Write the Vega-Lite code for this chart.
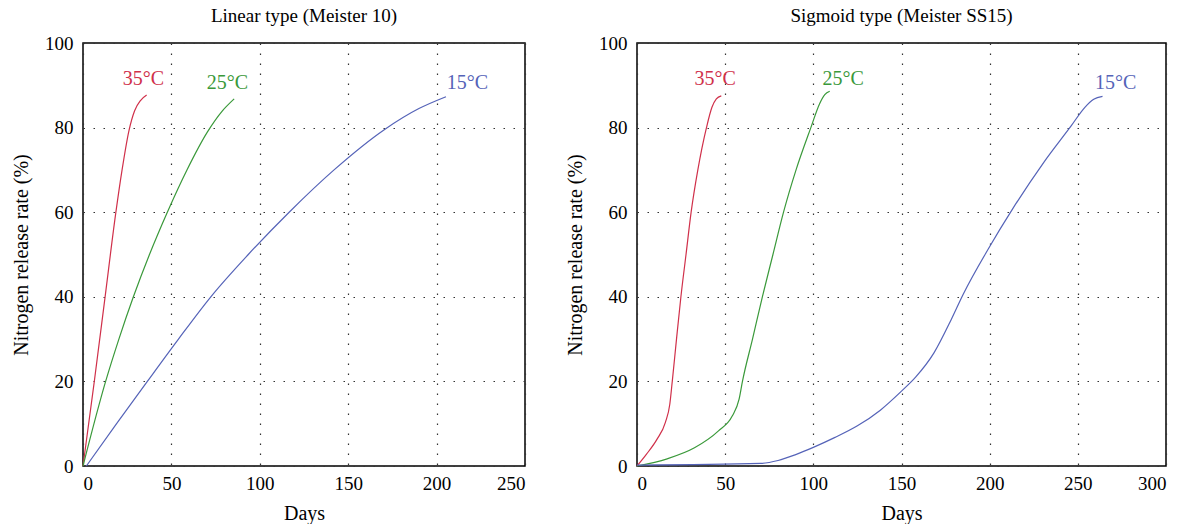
{
  "$schema": "https://vega.github.io/schema/vega-lite/v6.json",
  "background": "white",
  "padding": {"left": 10, "top": 6, "right": 5, "bottom": 0},
  "config": {
    "font": "Liberation Serif",
    "view": {"stroke": "black", "strokeWidth": 1.5},
    "axis": {
      "labelFont": "Liberation Serif", "titleFont": "Liberation Serif",
      "labelFontSize": 19, "titleFontSize": 20, "titleFontWeight": "normal",
      "labelColor": "black", "titleColor": "black",
      "ticks": false, "domain": false,
      "grid": true, "gridColor": "#333", "gridDash": [1.5, 8.5], "gridWidth": 1.2
    },
    "axisX": {"labelPadding": 8, "titlePadding": 10},
    "axisY": {"labelPadding": 10, "titlePadding": 13},
    "title": {"font": "Liberation Serif", "fontSize": 19, "fontWeight": "normal", "color": "black", "offset": 8}
  },
  "datasets": {
    "curves": [
      {"panel": "L", "temp": "35°C", "day": 0, "pct": 0},
      {"panel": "L", "temp": "35°C", "day": 6.4, "pct": 20},
      {"panel": "L", "temp": "35°C", "day": 12.5, "pct": 40},
      {"panel": "L", "temp": "35°C", "day": 18.6, "pct": 60},
      {"panel": "L", "temp": "35°C", "day": 22.1, "pct": 70},
      {"panel": "L", "temp": "35°C", "day": 26, "pct": 79.3},
      {"panel": "L", "temp": "35°C", "day": 29.2, "pct": 84},
      {"panel": "L", "temp": "35°C", "day": 32.5, "pct": 86.4},
      {"panel": "L", "temp": "35°C", "day": 36, "pct": 87.7},
      {"panel": "L", "temp": "25°C", "day": 0, "pct": 0},
      {"panel": "L", "temp": "25°C", "day": 12.8, "pct": 20},
      {"panel": "L", "temp": "25°C", "day": 20.3, "pct": 30},
      {"panel": "L", "temp": "25°C", "day": 28.5, "pct": 40},
      {"panel": "L", "temp": "25°C", "day": 37.6, "pct": 50},
      {"panel": "L", "temp": "25°C", "day": 47.7, "pct": 60},
      {"panel": "L", "temp": "25°C", "day": 58.8, "pct": 70},
      {"panel": "L", "temp": "25°C", "day": 70.4, "pct": 79},
      {"panel": "L", "temp": "25°C", "day": 78.5, "pct": 83.8},
      {"panel": "L", "temp": "25°C", "day": 85.5, "pct": 86.8},
      {"panel": "L", "temp": "15°C", "day": 1.9, "pct": 0},
      {"panel": "L", "temp": "15°C", "day": 19, "pct": 10},
      {"panel": "L", "temp": "15°C", "day": 36.4, "pct": 20},
      {"panel": "L", "temp": "15°C", "day": 54, "pct": 30},
      {"panel": "L", "temp": "15°C", "day": 72.3, "pct": 40},
      {"panel": "L", "temp": "15°C", "day": 93.5, "pct": 50},
      {"panel": "L", "temp": "15°C", "day": 116.6, "pct": 60},
      {"panel": "L", "temp": "15°C", "day": 142, "pct": 70},
      {"panel": "L", "temp": "15°C", "day": 170.4, "pct": 79.5},
      {"panel": "L", "temp": "15°C", "day": 190, "pct": 84.5},
      {"panel": "L", "temp": "15°C", "day": 205.3, "pct": 87.3},
      {"panel": "R", "temp": "35°C", "day": 0, "pct": 0},
      {"panel": "R", "temp": "35°C", "day": 5.4, "pct": 2.8},
      {"panel": "R", "temp": "35°C", "day": 11.3, "pct": 6.3},
      {"panel": "R", "temp": "35°C", "day": 16.1, "pct": 10.3},
      {"panel": "R", "temp": "35°C", "day": 18.6, "pct": 14.6},
      {"panel": "R", "temp": "35°C", "day": 20, "pct": 20},
      {"panel": "R", "temp": "35°C", "day": 22.4, "pct": 30},
      {"panel": "R", "temp": "35°C", "day": 24.9, "pct": 40},
      {"panel": "R", "temp": "35°C", "day": 27.8, "pct": 50},
      {"panel": "R", "temp": "35°C", "day": 30.7, "pct": 60},
      {"panel": "R", "temp": "35°C", "day": 34.5, "pct": 70},
      {"panel": "R", "temp": "35°C", "day": 39.4, "pct": 80},
      {"panel": "R", "temp": "35°C", "day": 42.5, "pct": 84.8},
      {"panel": "R", "temp": "35°C", "day": 45, "pct": 86.8},
      {"panel": "R", "temp": "35°C", "day": 47.8, "pct": 87.5},
      {"panel": "R", "temp": "25°C", "day": 0, "pct": 0},
      {"panel": "R", "temp": "25°C", "day": 17.1, "pct": 1.7},
      {"panel": "R", "temp": "25°C", "day": 32.6, "pct": 4.3},
      {"panel": "R", "temp": "25°C", "day": 46.2, "pct": 8.3},
      {"panel": "R", "temp": "25°C", "day": 54, "pct": 11.8},
      {"panel": "R", "temp": "25°C", "day": 57.9, "pct": 15.8},
      {"panel": "R", "temp": "25°C", "day": 59.8, "pct": 20},
      {"panel": "R", "temp": "25°C", "day": 65.5, "pct": 30},
      {"panel": "R", "temp": "25°C", "day": 71.1, "pct": 40},
      {"panel": "R", "temp": "25°C", "day": 77.1, "pct": 50},
      {"panel": "R", "temp": "25°C", "day": 83.1, "pct": 60},
      {"panel": "R", "temp": "25°C", "day": 90.2, "pct": 70},
      {"panel": "R", "temp": "25°C", "day": 98.6, "pct": 80},
      {"panel": "R", "temp": "25°C", "day": 103.5, "pct": 85.6},
      {"panel": "R", "temp": "25°C", "day": 106.5, "pct": 87.8},
      {"panel": "R", "temp": "25°C", "day": 109.3, "pct": 88.6},
      {"panel": "R", "temp": "15°C", "day": 0, "pct": 0.2},
      {"panel": "R", "temp": "15°C", "day": 70, "pct": 0.6},
      {"panel": "R", "temp": "15°C", "day": 80, "pct": 1.3},
      {"panel": "R", "temp": "15°C", "day": 90, "pct": 2.7},
      {"panel": "R", "temp": "15°C", "day": 100, "pct": 4.4},
      {"panel": "R", "temp": "15°C", "day": 112, "pct": 6.7},
      {"panel": "R", "temp": "15°C", "day": 125, "pct": 9.5},
      {"panel": "R", "temp": "15°C", "day": 138, "pct": 13.2},
      {"panel": "R", "temp": "15°C", "day": 150, "pct": 17.7},
      {"panel": "R", "temp": "15°C", "day": 158, "pct": 21},
      {"panel": "R", "temp": "15°C", "day": 168.5, "pct": 26.8},
      {"panel": "R", "temp": "15°C", "day": 178.3, "pct": 34.7},
      {"panel": "R", "temp": "15°C", "day": 185, "pct": 40.6},
      {"panel": "R", "temp": "15°C", "day": 199.2, "pct": 51.3},
      {"panel": "R", "temp": "15°C", "day": 213.2, "pct": 60.9},
      {"panel": "R", "temp": "15°C", "day": 230.7, "pct": 71.8},
      {"panel": "R", "temp": "15°C", "day": 246.2, "pct": 80.4},
      {"panel": "R", "temp": "15°C", "day": 254, "pct": 84.8},
      {"panel": "R", "temp": "15°C", "day": 259, "pct": 86.7},
      {"panel": "R", "temp": "15°C", "day": 264, "pct": 87.4}
    ],
    "labels": [
      {"panel": "L", "temp": "35°C", "day": 34.2, "pct": 91.6},
      {"panel": "L", "temp": "25°C", "day": 81.7, "pct": 90.5},
      {"panel": "L", "temp": "15°C", "day": 217.5, "pct": 90.5},
      {"panel": "R", "temp": "35°C", "day": 44.3, "pct": 91.6},
      {"panel": "R", "temp": "25°C", "day": 116.9, "pct": 91.6},
      {"panel": "R", "temp": "15°C", "day": 271.5, "pct": 90.5}
    ]
  },
  "hconcat": [
    {
      "width": 442, "height": 423,
      "title": "Linear type (Meister 10)",
      "layer": [
        {
          "data": {"name": "curves"},
          "transform": [{"filter": "datum.panel === 'L'"}],
          "mark": {"type": "line", "interpolate": "monotone", "strokeWidth": 1.2},
          "encoding": {
            "x": {"field": "day", "type": "quantitative", "scale": {"domain": [0, 250], "nice": false}, "axis": {"title": "Days", "values": [0, 50, 100, 150, 200, 250]}},
            "y": {"field": "pct", "type": "quantitative", "scale": {"domain": [0, 100], "nice": false}, "axis": {"title": "Nitrogen release rate (%)", "values": [0, 20, 40, 60, 80, 100]}},
            "color": {"field": "temp", "type": "nominal", "scale": {"domain": ["35°C", "25°C", "15°C"], "range": ["#d0304a", "#3a993a", "#5563b8"]}, "legend": null},
            "detail": {"field": "temp"}
          }
        },
        {
          "data": {"name": "labels"},
          "transform": [{"filter": "datum.panel === 'L'"}],
          "mark": {"type": "text", "fontSize": 20, "font": "Liberation Serif"},
          "encoding": {
            "x": {"field": "day", "type": "quantitative"},
            "y": {"field": "pct", "type": "quantitative"},
            "text": {"field": "temp"},
            "color": {"field": "temp", "type": "nominal", "legend": null}
          }
        }
      ]
    },
    {
      "width": 529, "height": 423,
      "title": "Sigmoid type (Meister SS15)",
      "layer": [
        {
          "data": {"name": "curves"},
          "transform": [{"filter": "datum.panel === 'R'"}],
          "mark": {"type": "line", "interpolate": "monotone", "strokeWidth": 1.2},
          "encoding": {
            "x": {"field": "day", "type": "quantitative", "scale": {"domain": [0, 300], "nice": false}, "axis": {"title": "Days", "values": [0, 50, 100, 150, 200, 250, 300]}},
            "y": {"field": "pct", "type": "quantitative", "scale": {"domain": [0, 100], "nice": false}, "axis": {"title": "Nitrogen release rate (%)", "values": [0, 20, 40, 60, 80, 100]}},
            "color": {"field": "temp", "type": "nominal", "scale": {"domain": ["35°C", "25°C", "15°C"], "range": ["#d0304a", "#3a993a", "#5563b8"]}, "legend": null},
            "detail": {"field": "temp"}
          }
        },
        {
          "data": {"name": "labels"},
          "transform": [{"filter": "datum.panel === 'R'"}],
          "mark": {"type": "text", "fontSize": 20, "font": "Liberation Serif"},
          "encoding": {
            "x": {"field": "day", "type": "quantitative"},
            "y": {"field": "pct", "type": "quantitative"},
            "text": {"field": "temp"},
            "color": {"field": "temp", "type": "nominal", "legend": null}
          }
        }
      ]
    }
  ],
  "spacing": 112,
  "bounds": "flush",
  "resolve": {"scale": {"color": "independent"}}
}
